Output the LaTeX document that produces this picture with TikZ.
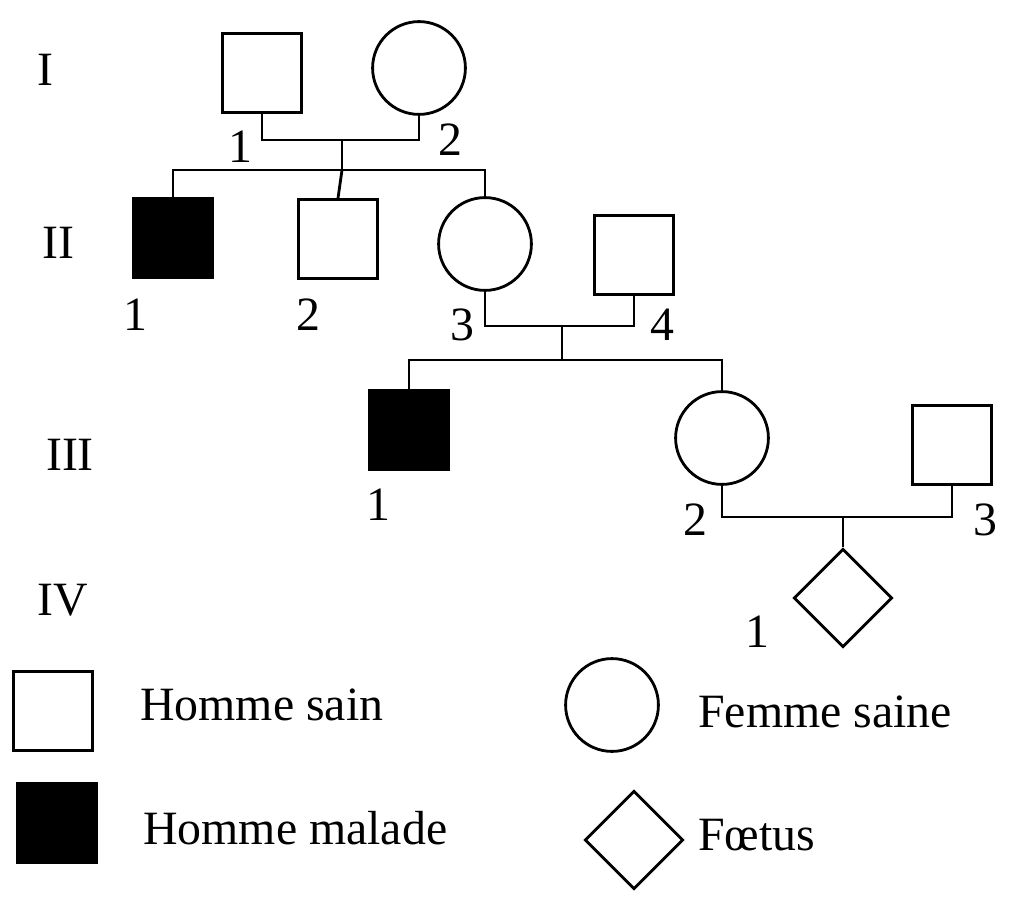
\documentclass[tikz,border=0pt]{standalone}
\usepackage{fontspec}
\setmainfont{Liberation Serif}
\usetikzlibrary{shapes.geometric}
\tikzset{
  male/.style={draw,line width=2pt,minimum size=56pt,inner sep=0pt},
  ill/.style={male,fill=black},
  female/.style={draw,circle,line width=2pt,minimum size=66pt,inner sep=0pt},
  foetus/.style={draw,diamond,line width=2pt,minimum size=70pt,inner sep=0pt},
  txt/.style={font=\fontsize{34}{36}\selectfont,inner sep=0pt},
  link/.style={line width=2pt}
}
\begin{document}
\begin{tikzpicture}[x=0.025cm,y=-0.025cm]
\useasboundingbox (0,0) rectangle (1024,912);
% generations
\node[txt] (gI) at (45,70) {I};
\node[txt] (gII) at (58,243) {II};
\node[txt] (gIII) at (70,455) {III};
\node[txt] (gIV) at (63,600) {IV};
% generation I
\node[male] (I1) at (262,73) {};
\node[female] (I2) at (419,68) {};
\node[txt] (lI1) at (240,147) {1};
\node[txt] (lI2) at (450,140) {2};
\coordinate (mI) at (342,140);
\coordinate (sI) at (342,170);
\draw[link] (I1.south) |- (mI) -| (I2.south);
\draw[link] (mI) -- (sI);
% generation II
\node[ill] (II1) at (173,238) {};
\node[male] (II2) at (338,239) {};
\node[female] (II3) at (485,244) {};
\node[male] (II4) at (634,255) {};
\node[txt] (lII1) at (135,315) {1};
\node[txt] (lII2) at (308,315) {2};
\node[txt] (lII3) at (462,325) {3};
\node[txt] (lII4) at (662,325) {4};
\draw[link] (II1.north) |- (sI) -| (II3.north);
\draw[link] (sI) -- (II2.north);
\coordinate (mII) at (562,326);
\coordinate (sII) at (562,360);
\draw[link] (II3.south) |- (mII) -| (II4.south);
\draw[link] (mII) -- (sII);
% generation III
\node[ill] (III1) at (409,430) {};
\node[female] (III2) at (722,438) {};
\node[male] (III3) at (952,445) {};
\node[txt] (lIII1) at (378,505) {1};
\node[txt] (lIII2) at (695,520) {2};
\node[txt] (lIII3) at (985,520) {3};
\draw[link] (III1.north) |- (sII) -| (III2.north);
\coordinate (mIII) at (843,517);
\draw[link] (III2.south) |- (mIII) -| (III3.south);
% generation IV
\node[foetus] (IV1) at (843,598) {};
\node[txt] (lIV1) at (757,632) {1};
\draw[link] (mIII) -- (IV1.north);
% legend
\node[male] (kM) at (53,711) {};
\node[txt,anchor=west] (tM) at (140,705) {Homme sain};
\node[ill] (kI) at (57,823) {};
\node[txt,anchor=west] (tI) at (143,828) {Homme malade};
\node[female] (kF) at (612,705) {};
\node[txt,anchor=west] (tF) at (698,712) {Femme saine};
\node[foetus] (kD) at (634,840) {};
\node[txt,anchor=west] (tD) at (698,835) {Fœtus};
\end{tikzpicture}
\end{document}
